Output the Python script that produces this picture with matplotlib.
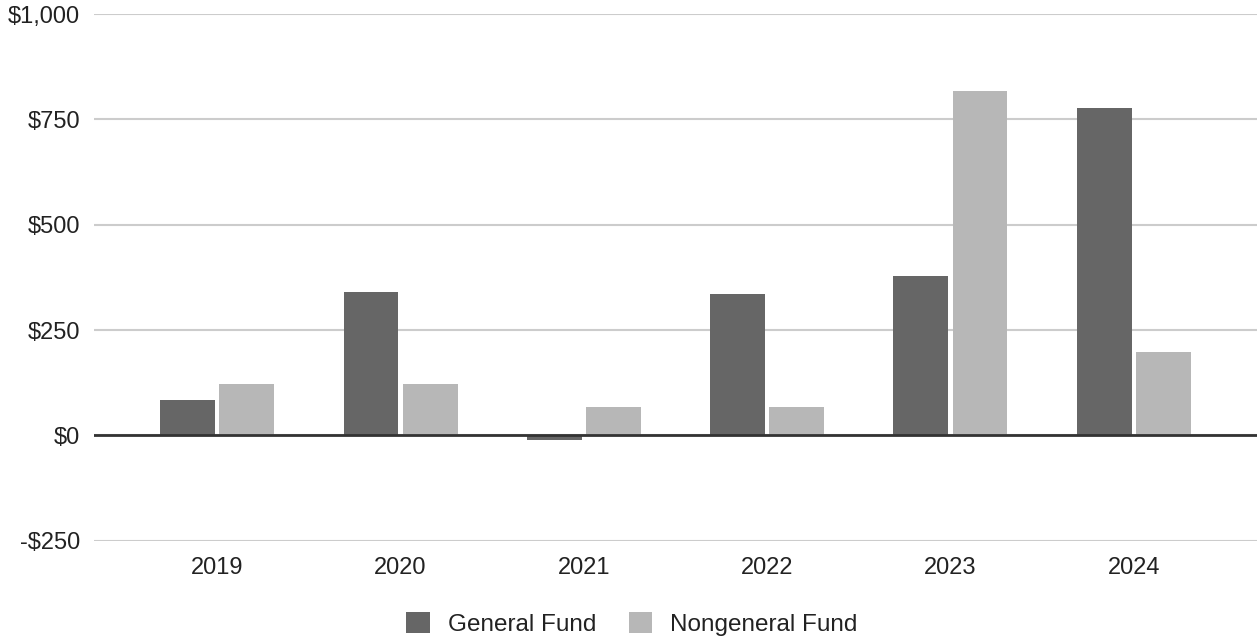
import numpy as np
import matplotlib.pyplot as plt
from matplotlib.patches import Patch

# data (in dollars, millions presumably)
years = ["2019", "2020", "2021", "2022", "2023", "2024"]
general_fund = [84, 341, -11, 336, 379, 778]
nongeneral_fund = [122, 122, 68, 68, 817, 199]
y_ticks = [-250, 0, 250, 500, 750, 1000]
y_labels = ["-$250", "$0", "$250", "$500", "$750", "$1,000"]

plt.rcParams['font.family'] = ['Liberation Sans', 'DejaVu Sans']

fig = plt.figure(figsize=(12.59, 6.38), dpi=100)
ax = fig.add_axes([94 / 1259, 1 - 540.7 / 638, (1257 - 94) / 1259, (540.7 - 14) / 638])

x = np.arange(len(years))
width = 0.30
offset = 0.161
ax.bar(x - offset, general_fund, width, color="#666666", zorder=3, label="General Fund")
ax.bar(x + offset, nongeneral_fund, width, color="#b7b7b7", zorder=3, label="Nongeneral Fund")

ax.set_xlim(-0.672, 5.672)
ax.set_ylim(-250, 1000)
ax.set_yticks(y_ticks)
ax.set_yticklabels(y_labels)
ax.set_xticks(x)
ax.set_xticklabels(years)

# gridlines and zero line
ax.grid(axis='y', color="#cccccc", linewidth=1.5, zorder=0)
ax.axhline(0, color="#333333", linewidth=2, zorder=4)

for s in ax.spines.values():
    s.set_visible(False)
ax.tick_params(axis='both', length=0, labelsize=17, colors="#222222")
ax.tick_params(axis='y', pad=10)
ax.tick_params(axis='x', pad=12)

handles = [Patch(facecolor="#666666", label="General Fund"),
           Patch(facecolor="#b7b7b7", label="Nongeneral Fund")]
fig.legend(handles=handles, loc='center', bbox_to_anchor=(0.502, 1 - 624 / 638), ncol=2,
           frameon=False, fontsize=17.5, handlelength=0.95, handleheight=0.95,
           handletextpad=0.75, columnspacing=1.35, labelcolor="#222222")

fig.savefig("out.png", dpi=100)
